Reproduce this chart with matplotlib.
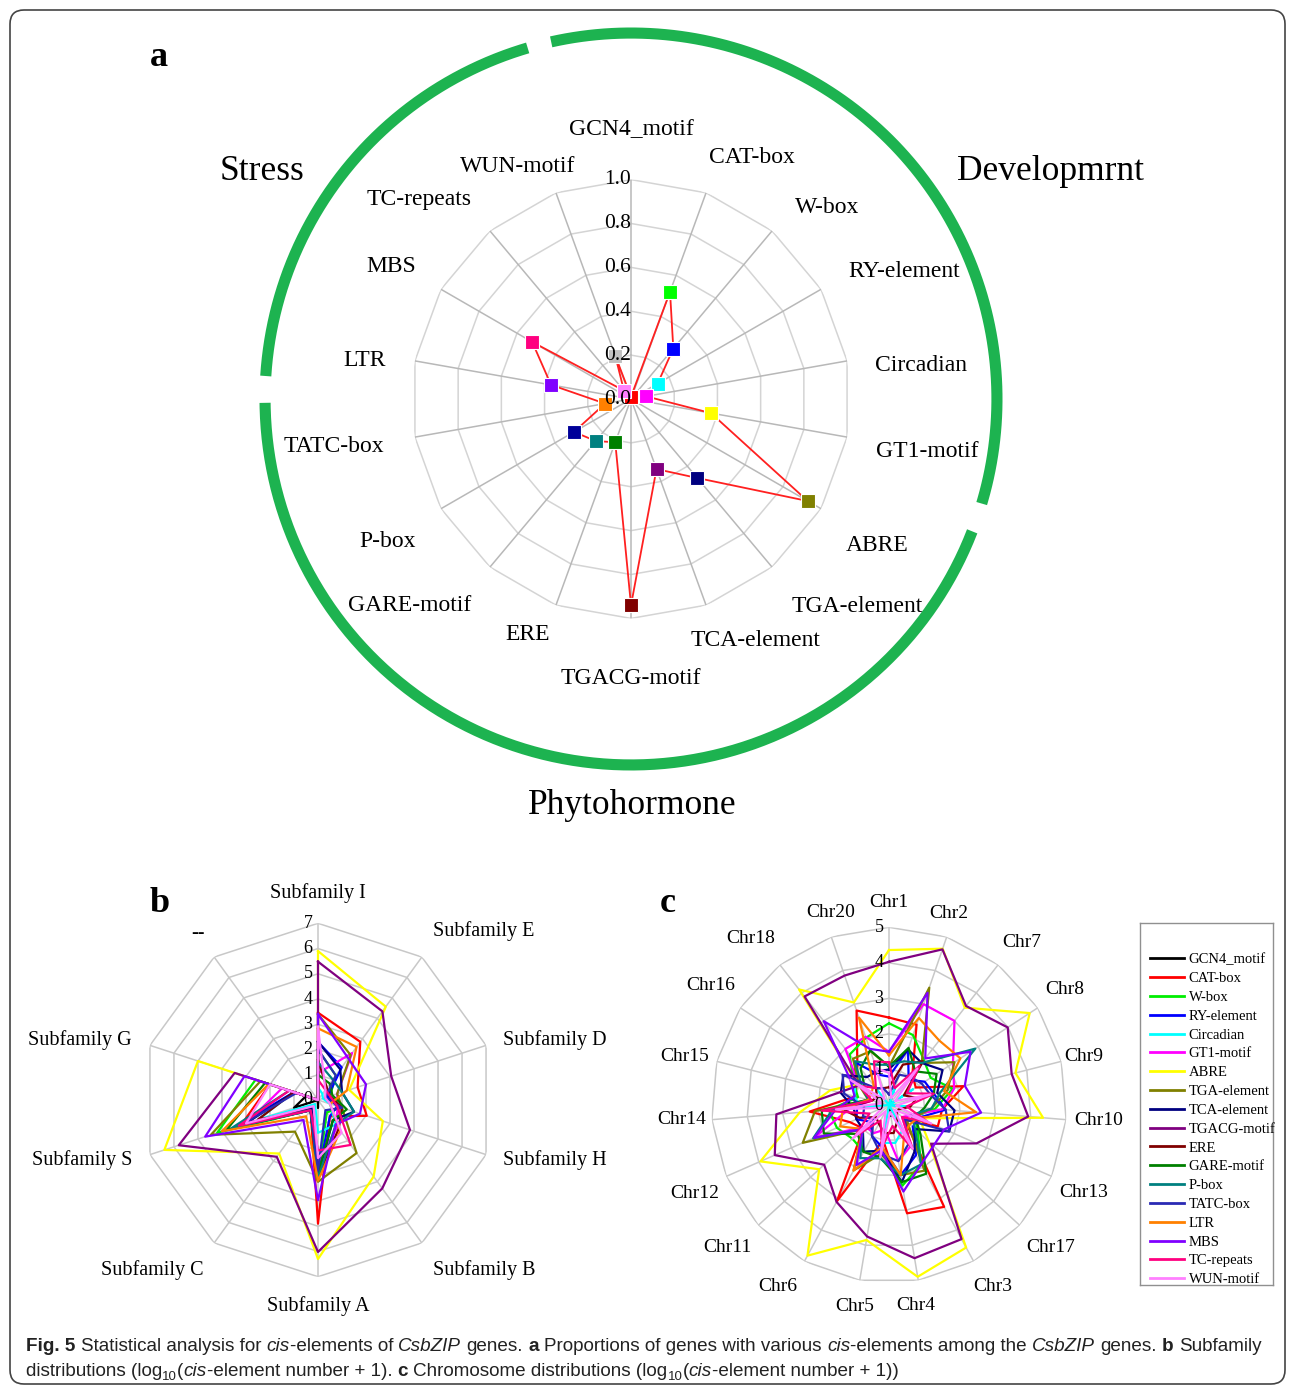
import numpy as np
import matplotlib.pyplot as plt
from matplotlib.lines import Line2D
from matplotlib.patches import FancyBboxPatch

W, H = 1295, 1387
SERIF = ['Liberation Serif', 'DejaVu Serif']
CAPTION_FONT = ['Liberation Sans', 'DejaVu Sans']
plt.rcParams['font.family'] = SERIF

# ---------------- data ----------------
elements = ['GCN4_motif', 'CAT-box', 'W-box', 'RY-element', 'Circadian', 'GT1-motif',
            'ABRE', 'TGA-element', 'TCA-element', 'TGACG-motif', 'ERE', 'GARE-motif',
            'P-box', 'TATC-box', 'LTR', 'MBS', 'TC-repeats', 'WUN-motif']
element_colors = ['#000000', '#ff0000', '#00ee00', '#0000ff', '#00ffff', '#ff00ff',
                  '#ffff00', '#808000', '#000080', '#800080', '#800000', '#008000',
                  '#008080', '#2a2ab4', '#ff8000', '#8000ff', '#ff0080', '#ff80ff']

# (a) proportion of genes carrying each element
a_share = [0.01, 0.52, 0.30, 0.14, 0.07, 0.37, 0.93, 0.47, 0.34, 0.94,
           0.21, 0.25, 0.30, 0.12, 0.37, 0.52, 0.05, 0.21]
a_marker_colors = ['#ff0000', '#00ff00', '#0000ff', '#00ffff', '#ff00ff', '#ffff00',
                   '#808000', '#000080', '#800080', '#800000', '#008000', '#008080',
                   '#000099', '#ff8000', '#8000ff', '#ff0080', '#ff80ff', '#c0c0c0']
a_ticks = [0.0, 0.2, 0.4, 0.6, 0.8, 1.0]
groups = ['Stress', 'Developmrnt', 'Phytohormone']

# (b) log10(count + 1) per subfamily
subfamilies = ['Subfamily I', 'Subfamily E', 'Subfamily D', 'Subfamily H', 'Subfamily B',
               'Subfamily A', 'Subfamily C', 'Subfamily S', 'Subfamily G', '--']
b_values = [
    [0.3, 0.0, 0.0, 0.0, 0.0, 0.3, 0.0, 1.0, 0.5, 0],   # GCN4_motif
    [3.46, 2.85, 1.65, 2.03, 0.8, 4.9, 0.5, 3.2, 2.0, 0],  # CAT-box
    [2.0, 1.2, 0.5, 1.0, 0.6, 3.0, 0.5, 4.2, 2.6, 0],    # W-box
    [2.3, 1.6, 0.4, 0.8, 0.8, 3.0, 0.5, 3.45, 1.0, 0],   # RY-element
    [0.5, 0.3, 0.2, 0.5, 1.2, 1.3, 0.2, 2.5, 1.0, 0],    # Circadian
    [1.06, 2.3, 0.8, 0.8, 1.3, 2.5, 0.5, 3.0, 1.5, 0],   # GT1-motif
    [5.9, 4.57, 1.3, 2.7, 3.75, 6.3, 2.62, 6.4, 5.0, 0],  # ABRE
    [3.4, 2.2, 0.8, 1.0, 2.6, 3.24, 1.55, 4.46, 2.4, 0],  # TGA-element
    [2.31, 1.5, 1.0, 1.5, 1.0, 3.0, 0.4, 3.0, 1.0, 0],   # TCA-element
    [5.48, 4.34, 3.05, 3.83, 4.33, 6.02, 2.78, 5.8, 3.47, 0],  # TGACG-motif
    [1.58, 0.6, 0.5, 1.0, 1.4, 3.0, 0.5, 2.5, 1.0, 0],   # ERE
    [1.0, 0.8, 0.6, 1.2, 1.0, 2.9, 0.5, 3.8, 2.2, 0],    # GARE-motif
    [1.5, 1.0, 1.0, 1.5, 1.2, 3.1, 0.5, 3.6, 1.2, 0],    # P-box
    [2.0, 1.2, 0.3, 1.0, 0.5, 2.8, 0.5, 3.2, 0.9, 0],    # TATC-box
    [2.84, 2.6, 1.2, 0.5, 1.5, 3.2, 0.8, 4.0, 2.05, 0],  # LTR
    [3.4, 2.04, 2.0, 1.75, 1.2, 3.97, 0.98, 4.7, 3.06, 0],  # MBS
    [0.8, 0.5, 0.5, 0.8, 2.2, 2.0, 0.5, 3.3, 1.2, 0],    # TC-repeats
    [2.9, 0.5, 0.3, 0.5, 1.6, 2.3, 0.3, 3.0, 2.0, 0],    # WUN-motif
]

# (c) log10(count + 1) per chromosome
chromosomes = ['Chr1', 'Chr2', 'Chr7', 'Chr8', 'Chr9', 'Chr10', 'Chr13', 'Chr17', 'Chr3',
               'Chr4', 'Chr5', 'Chr6', 'Chr11', 'Chr12', 'Chr14', 'Chr15', 'Chr16',
               'Chr18', 'Chr20']
c_values = [
    [0, 0.3, 0, 0, 0, 0, 0, 0, 0, 0.3, 0, 0, 0, 0, 0, 0, 0, 0, 0],
    [2.46, 2.39, 1.07, 0.9, 2.16, 1.5, 1.5, 0.6, 3.26, 3.09, 1.0, 3.08, 0.98, 1.2, 2.24, 0.98, 1.09, 1.45, 2.81],
    [2.3, 2.08, 1.6, 1.4, 1.85, 1.3, 0.8, 1.1, 1.9, 2.3, 1.3, 1.5, 1.4, 1.6, 1.7, 0.9, 1.2, 1.8, 2.0],
    [0.8, 1.65, 0.9, 1.2, 1.3, 1.6, 0.9, 0.91, 1.6, 2.0, 1.2, 1.0, 0.7, 1.0, 0.9, 1.0, 1.2, 1.5, 0.9],
    [0, 0.5, 0, 0.8, 0, 0.5, 0, 0, 0.8, 1.08, 1.08, 0, 0, 0, 0.8, 1.0, 1.13, 0.6, 0],
    [1.5, 3.0, 3.0, 2.15, 1.89, 1.5, 0.7, 0.5, 1.3, 1.6, 0.7, 0.9, 0.9, 2.3, 1.1, 0.5, 1.0, 2.0, 2.03],
    [4.36, 4.65, 3.47, 4.73, 3.67, 4.35, 0.93, 1.52, 4.56, 4.90, 3.85, 4.82, 2.67, 3.95, 2.52, 1.70, 1.05, 4.12, 3.05],
    [1.08, 3.49, 1.5, 2.2, 1.7, 1.2, 0.8, 0.7, 2.1, 2.0, 1.4, 2.09, 1.0, 2.65, 2.09, 0.6, 1.0, 1.65, 1.6],
    [1.0, 1.65, 1.5, 1.8, 1.4, 1.85, 1.85, 1.0, 1.5, 2.2, 1.3, 1.5, 1.0, 1.0, 1.0, 1.4, 1.53, 1.0, 1.0],
    [4.03, 4.63, 3.53, 3.99, 3.56, 3.93, 2.69, 1.61, 4.29, 4.37, 3.75, 3.10, 2.48, 3.51, 3.18, 1.44, 1.01, 3.87, 3.85],
    [0.5, 1.2, 1.56, 0.5, 0.8, 0.6, 0.3, 0.3, 0.5, 0.8, 0.8, 0.6, 0.5, 0.9, 1.33, 0.5, 0.4, 0.6, 0.5],
    [1.08, 1.7, 1.2, 1.6, 1.3, 1.0, 0.8, 1.2, 2.2, 2.2, 1.5, 1.5, 1.2, 2.0, 1.9, 0.6, 0.8, 1.3, 1.63],
    [1.13, 1.3, 1.5, 2.9, 1.5, 1.2, 0.7, 1.0, 1.9, 2.0, 1.52, 1.7, 1.0, 2.33, 1.6, 0.6, 0.9, 1.56, 1.2],
    [0.3, 0.9, 1.0, 1.1, 1.2, 1.6, 1.85, 0.6, 1.2, 1.6, 1.4, 1.0, 0.6, 0.8, 0.7, 1.3, 1.56, 0.6, 0.5],
    [1.4, 2.59, 2.3, 2.4, 1.6, 2.46, 0.9, 0.8, 0.9, 2.0, 1.2, 2.1, 1.0, 1.5, 1.3, 0.6, 0.6, 0.7, 2.6],
    [1.5, 3.34, 1.66, 2.74, 2.2, 2.6, 1.7, 1.7, 1.9, 2.47, 1.3, 1.92, 1.0, 2.3, 1.5, 1.0, 1.3, 2.99, 1.67],
    [1.2, 0.5, 1.4, 0.6, 1.3, 0.5, 1.2, 0.5, 1.4, 0.6, 1.2, 0.5, 1.3, 0.6, 1.9, 0.5, 1.0, 0.6, 1.3],
    [0.9, 0.2, 1.3, 0.2, 1.2, 0.2, 1.3, 0.2, 1.4, 0.2, 1.5, 0.2, 1.4, 0.2, 1.5, 0.2, 1.3, 0.2, 1.1],
]

# ---------------- layout (pixels) ----------------
A_CENTER, A_RAD = (631, 399), 219.4
B_CENTER, B_RAD = (318, 1100), 176.7
C_CENTER, C_RAD = (889, 1105), 177.7
RING_R = 1.668
ring_spans = [(273.6, 343.6), (347.4, 466.6), (111.2, 269.4)]
group_pos = [(262, 172), (1050, 172), (632, 805)]
# category label anchors: (angle in degrees, radius as fraction of outer ring)
a_label_pos = [(0, 1.226), (26.6, 1.233), (45.6, 1.249), (65.0, 1.372), (83.5, 1.331),
               (100.0, 1.371), (120.8, 1.308), (132.6, 1.399), (152.7, 1.240),
               (180.0, 1.272), (203.7, 1.170), (227.0, 1.380), (239.7, 1.283),
               (261.0, 1.371), (278.3, 1.225), (299.0, 1.249), (313.2, 1.325),
               (334.0, 1.180)]
b_label_pos = [(0, 1.17), (44.5, 1.34), (75.8, 1.38), (104.2, 1.38), (135.7, 1.345),
               (180, 1.166), (224.3, 1.345), (255.7, 1.378), (284.1, 1.39), (324.3, 1.16)]
c_label_pos = [(0, 1.137), (17.4, 1.13), (39.4, 1.18), (56.7, 1.18), (75.9, 1.13),
               (94.1, 1.185), (114.3, 1.20), (131.4, 1.21), (150.1, 1.175), (172.3, 1.14),
               (189.6, 1.15), (211.5, 1.195), (228.6, 1.21), (245.6, 1.20), (265.9, 1.17),
               (283.5, 1.18), (303.8, 1.21), (320.3, 1.215), (343.2, 1.13)]

fig = plt.figure(figsize=(W / 100, H / 100), dpi=100)

bg = fig.add_axes([0, 0, 1, 1], zorder=-5)
bg.set_xlim(0, W)
bg.set_ylim(H, 0)
bg.axis('off')
bg.add_patch(FancyBboxPatch((10, 10), W - 20, H - 13,
                            boxstyle='round,pad=0,rounding_size=14',
                            fc='white', ec='#444444', lw=1.2))


def radar_axes(center, rad, rmax):
    cx, cy = center
    ax = fig.add_axes([(cx - rad) / W, (H - cy - rad) / H, 2 * rad / W, 2 * rad / H],
                      projection='polar')
    ax.set_theta_zero_location('N')
    ax.set_theta_direction(-1)
    ax.set_ylim(0, rmax)
    ax.set_axis_off()
    return ax


def radar_grid(ax, n, levels, ring_color, spoke_color):
    th = np.linspace(0, 2 * np.pi, n, endpoint=False)
    closed = np.append(th, th[0])
    for lv in levels[1:]:
        ax.plot(closed, np.full(n + 1, lv), color=ring_color, lw=1.1, zorder=1)
    for t in th:
        ax.plot([t, t], [0, levels[-1]], color=spoke_color, lw=1.1, zorder=1)
    return th


def closed(th, vals):
    return np.append(th, th[0]), np.append(vals, vals[0])


# ---------------- panel a ----------------
axa = radar_axes(A_CENTER, A_RAD, 1.0)
tha = radar_grid(axa, len(elements), a_ticks, '#d4d4d4', '#b8b8b8')
x, y = closed(tha, a_share)
axa.plot(x, y, color='#ff2020', lw=1.3, zorder=3, clip_on=False)
for t, v, c in zip(tha, a_share, a_marker_colors):
    axa.plot([t], [v], 's', ms=10, mfc=c, mec='white', mew=0.8, zorder=4, clip_on=False)
for lv in a_ticks:
    axa.text(0, lv, f'{lv:.1f}', ha='right', va='center', fontsize=15.5, zorder=5)
for name, (ang, r) in zip(elements, a_label_pos):
    axa.text(np.deg2rad(ang), r, name, ha='center', va='center', fontsize=17)
for (t0, t1) in ring_spans:
    tt = np.deg2rad(np.linspace(t0, t1, 200))
    axa.plot(tt, np.full_like(tt, RING_R), color='#1db350', lw=8.0,
             solid_capstyle='butt', clip_on=False)
for name, (px, py) in zip(groups, group_pos):
    bg.text(px, py, name, ha='center', va='center', fontsize=25.5)

# ---------------- panel b ----------------
axb = radar_axes(B_CENTER, B_RAD, 7)
thb = radar_grid(axb, len(subfamilies), list(range(8)), '#c8c8c8', '#c8c8c8')
for vals, c in zip(b_values, element_colors):
    x, y = closed(thb, vals)
    axb.plot(x, y, color=c, lw=1.6, zorder=3, clip_on=False)
for lv in range(8):
    axb.annotate(str(lv), (0, lv), xytext=(-4, 0), textcoords='offset points',
                 ha='right', va='center', fontsize=13, zorder=5)
for name, (ang, r) in zip(subfamilies, b_label_pos):
    axb.text(np.deg2rad(ang), r * 7, name, ha='center', va='center', fontsize=14.5)

# ---------------- panel c ----------------
axc = radar_axes(C_CENTER, C_RAD, 5)
thc = radar_grid(axc, len(chromosomes), list(range(6)), '#c8c8c8', '#c8c8c8')
handles = []
for vals, c, name in zip(c_values, element_colors, elements):
    x, y = closed(thc, vals)
    ln, = axc.plot(x, y, color=c, lw=1.6, zorder=3, clip_on=False, label=name)
    handles.append(ln)
for lv in range(6):
    axc.annotate(str(lv), (0, lv), xytext=(-4, 0), textcoords='offset points',
                 ha='right', va='center', fontsize=13, zorder=5)
for name, (ang, r) in zip(chromosomes, c_label_pos):
    axc.text(np.deg2rad(ang), r * 5, name, ha='center', va='center', fontsize=14)

# legend box
axl = fig.add_axes([1140 / W, (H - 1285) / H, 133 / W, 362 / H])
axl.set_xticks([])
axl.set_yticks([])
for sp in axl.spines.values():
    sp.set_color('#909090')
    sp.set_linewidth(1.0)
leg_handles = [Line2D([], [], color=h.get_color(), lw=2) for h in handles]
axl.legend(leg_handles, elements, loc='upper left', bbox_to_anchor=(0.0, 0.945),
           frameon=False, fontsize=10.5, handlelength=2.3, handletextpad=0.35,
           labelspacing=0.385, borderaxespad=0.3)

# ---------------- panel letters ----------------
for letter, (px, py) in zip('abc', [(159, 57), (160, 903), (668, 903)]):
    bg.text(px, py, letter, ha='center', va='center', fontsize=26, fontweight='bold')

# ---------------- caption ----------------
renderer = fig.canvas.get_renderer()


def text_width(s, **kw):
    t = bg.text(0, 0, s, **kw)
    w = t.get_window_extent(renderer=renderer).width
    t.remove()
    return w


def rich_line(x, y, pieces, size):
    space = (text_width('x x', fontsize=size, family=CAPTION_FONT)
             - text_width('xx', fontsize=size, family=CAPTION_FONT))
    for s, style in pieces:
        kw = dict(fontsize=size, family=CAPTION_FONT, va='baseline', ha='left',
                  color='#222222')
        yy = y
        if style == 'b':
            kw['fontweight'] = 'bold'
        elif style == 'i':
            kw['style'] = 'italic'
        elif style == 's':
            kw['fontsize'] = size * 0.7
            yy = y + 4
        lead = len(s) - len(s.lstrip(' '))
        trail = len(s) - len(s.rstrip(' '))
        x += lead * space
        core = s.strip(' ')
        if core:
            t = bg.text(x, yy, core, **kw)
            x += t.get_window_extent(renderer=renderer).width
        x += trail * space


line1 = [('Fig. 5', 'b'), (' Statistical analysis for ', 'n'), ('cis', 'i'),
         ('-elements of ', 'n'), ('CsbZIP', 'i'), (' genes. ', 'n'), ('a', 'b'),
         (' Proportions of genes with various ', 'n'), ('cis', 'i'),
         ('-elements among the ', 'n'), ('CsbZIP', 'i'), (' genes. ', 'n'), ('b', 'b'),
         (' Subfamily', 'n')]
line2 = [('distributions (log', 'n'), ('10', 's'), ('(', 'n'), ('cis', 'i'),
         ('-element number + 1). ', 'n'), ('c', 'b'), (' Chromosome distributions (log', 'n'),
         ('10', 's'), ('(', 'n'), ('cis', 'i'), ('-element number + 1))', 'n')]
rich_line(26, 1351, line1, 13.6)
rich_line(26, 1376, line2, 13.6)

fig.savefig('out.png', dpi=100)
